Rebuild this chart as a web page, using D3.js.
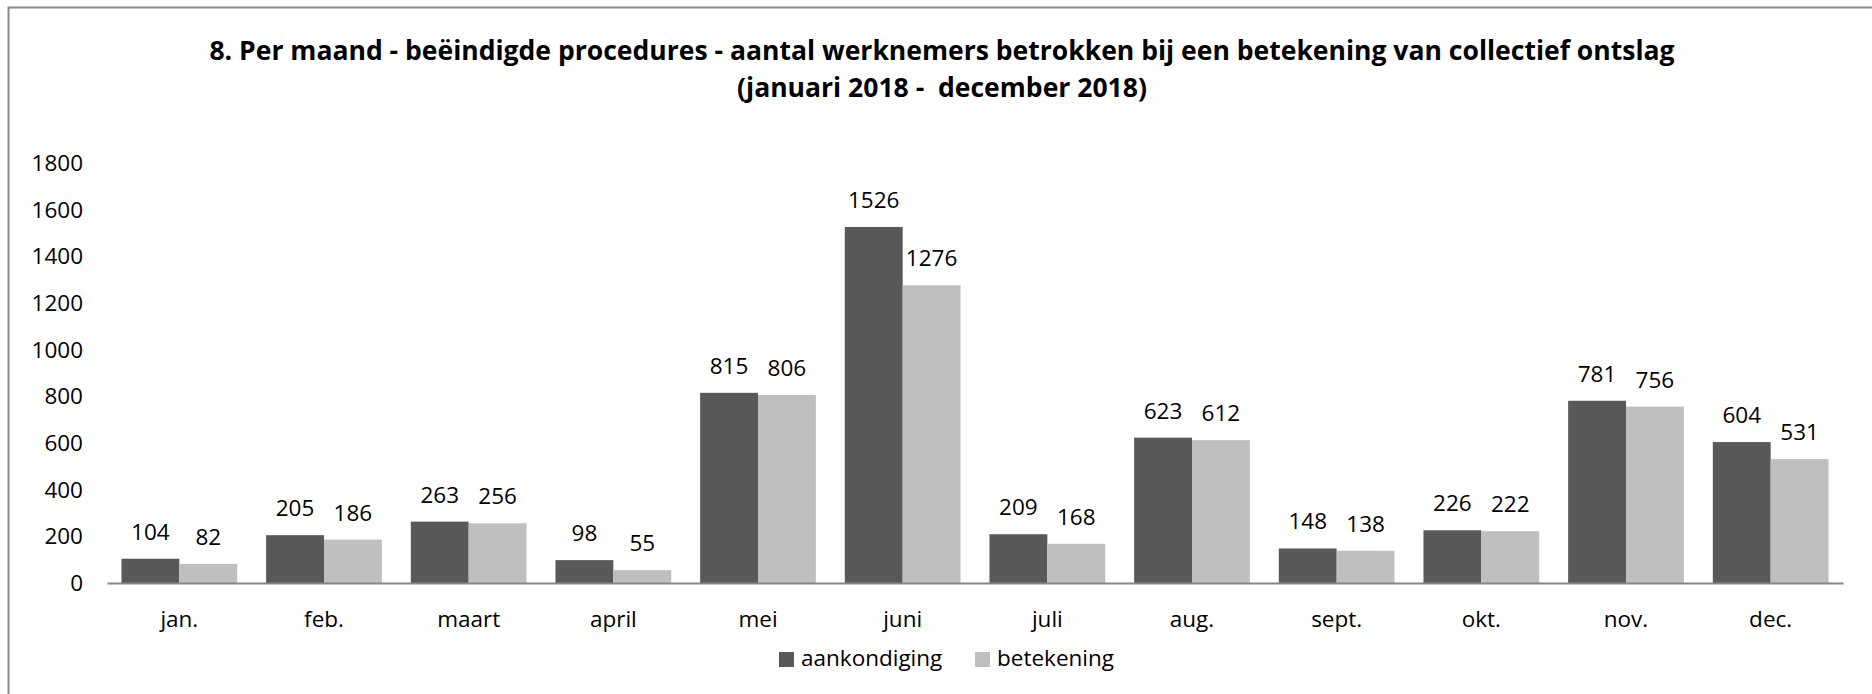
<!DOCTYPE html>
<html>
  <head>
    <meta charset="utf-8">
    <title>Collectief ontslag 2018</title>
    <script src="https://d3js.org/d3.v7.min.js"></script>
    <style>
      body{
        margin: 0;
        background: #ffffff;
      }
      svg text{
        font-family: "Open Sans", sans-serif;
        fill: #000;
      }
    </style>
  </head>
  <body>
    <div id="container"></div>
    <script>

      // DATA
      const months = ["jan.", "feb.", "maart", "april", "mei", "juni", "juli", "aug.", "sept.", "okt.", "nov.", "dec."];
      const aankondiging = [104, 205, 263, 98, 815, 1526, 209, 623, 148, 226, 781, 604];
      const betekening = [82, 186, 256, 55, 806, 1276, 168, 612, 138, 222, 756, 531];
      const seriesNames = ["aankondiging", "betekening"];
      const yTicks = [0, 200, 400, 600, 800, 1000, 1200, 1400, 1600, 1800];
      const titleLines = [
        "8. Per maand - beëindigde procedures - aantal werknemers betrokken bij een betekening van collectief ontslag",
        "(januari 2018 -  december 2018)"
      ];

      // SET DIMENSIONS
      const width = 1872, height = 694;
      const plot = { left: 107, right: 1843, top: 163, bottom: 583 };
      const colors = ["#595959", "#bfbfbf"];
      const fontSize = 22.5;

      const svg = d3.select("#container")
        .append("svg")
        .attr("width", width)
        .attr("height", height);

      // border (only top + left are in frame)
      svg.append("path")
        .attr("d", "M8.5," + height + "V7.5H" + width)
        .attr("fill", "none")
        .attr("stroke", "#8a8a8a")
        .attr("stroke-width", 2);

      // TITLE - fit first line to its width in the reference
      const title = svg.append("g").attr("class", "title");
      const probe = title.append("text")
        .attr("font-size", 100)
        .attr("font-weight", "bold")
        .text(titleLines[0]);
      const titleSize = 100 * 1466 / probe.node().getComputedTextLength();
      probe.remove();

      title.selectAll("text")
        .data(titleLines)
        .enter()
        .append("text")
        .attr("x", 942)
        .attr("y", (d, i) => 60 + i * 37)
        .attr("text-anchor", "middle")
        .attr("font-weight", "bold")
        .attr("font-size", titleSize)
        .style("white-space", "pre")
        .text(d => d);

      // SCALES
      const x = d3.scaleBand()
        .domain(months)
        .range([plot.left, plot.right])
        .paddingInner(0.2)
        .paddingOuter(0.1);

      const xSub = d3.scaleBand()
        .domain(seriesNames)
        .range([0, x.bandwidth()]);

      const y = d3.scaleLinear()
        .domain([0, 1800])
        .range([plot.bottom, plot.top]);

      // Y-AXIS (labels only)
      const yAxis = svg.append("g")
        .attr("transform", "translate(" + (plot.left - 24) + ",0)")
        .call(d3.axisLeft(y).tickValues(yTicks).tickSize(0).tickPadding(0).tickFormat(d3.format("d")));
      yAxis.select(".domain").remove();
      yAxis.selectAll("text")
        .attr("font-size", fontSize)
        .attr("font-family", null)
        .attr("dy", "0.34em")
        .attr("fill", "#000");

      // BARS
      const rows = months.map((m, i) => ({ month: m, values: [aankondiging[i], betekening[i]] }));

      const groups = svg.selectAll(".month")
        .data(rows)
        .enter()
        .append("g")
        .attr("class", "month")
        .attr("transform", d => "translate(" + x(d.month) + ",0)");

      const cells = groups.selectAll(".cell")
        .data(d => d.values.map((v, k) => ({ key: seriesNames[k], value: v, k: k })))
        .enter();

      cells.append("rect")
        .attr("x", d => xSub(d.key))
        .attr("y", d => y(d.value))
        .attr("width", xSub.bandwidth())
        .attr("height", d => y(0) - y(d.value))
        .attr("fill", d => colors[d.k]);

      // DATA LABELS
      cells.append("text")
        .attr("x", d => xSub(d.key) + xSub.bandwidth() / 2)
        .attr("y", d => y(d.value) - 19)
        .attr("text-anchor", "middle")
        .attr("font-size", fontSize)
        .text(d => d.value);

      // X-AXIS
      const xAxis = svg.append("g")
        .attr("transform", "translate(0," + plot.bottom + ")")
        .call(d3.axisBottom(x).tickSize(0).tickPadding(0));
      xAxis.select(".domain")
        .attr("stroke", "#868686")
        .attr("stroke-width", 2);
      xAxis.selectAll("text")
        .attr("font-size", fontSize)
        .attr("font-family", null)
        .attr("dy", null)
        .attr("y", 44)
        .attr("fill", "#000");

      // LEGEND
      const legendX = [779, 975];
      const legend = svg.selectAll(".legend")
        .data(seriesNames)
        .enter()
        .append("g")
        .attr("class", "legend")
        .attr("transform", (d, i) => "translate(" + legendX[i] + ",652)");
      legend.append("rect")
        .attr("width", 15)
        .attr("height", 15)
        .attr("fill", (d, i) => colors[i]);
      legend.append("text")
        .attr("x", 22)
        .attr("y", 14)
        .attr("font-size", fontSize)
        .text(d => d);

    </script>
  </body>
</html>
